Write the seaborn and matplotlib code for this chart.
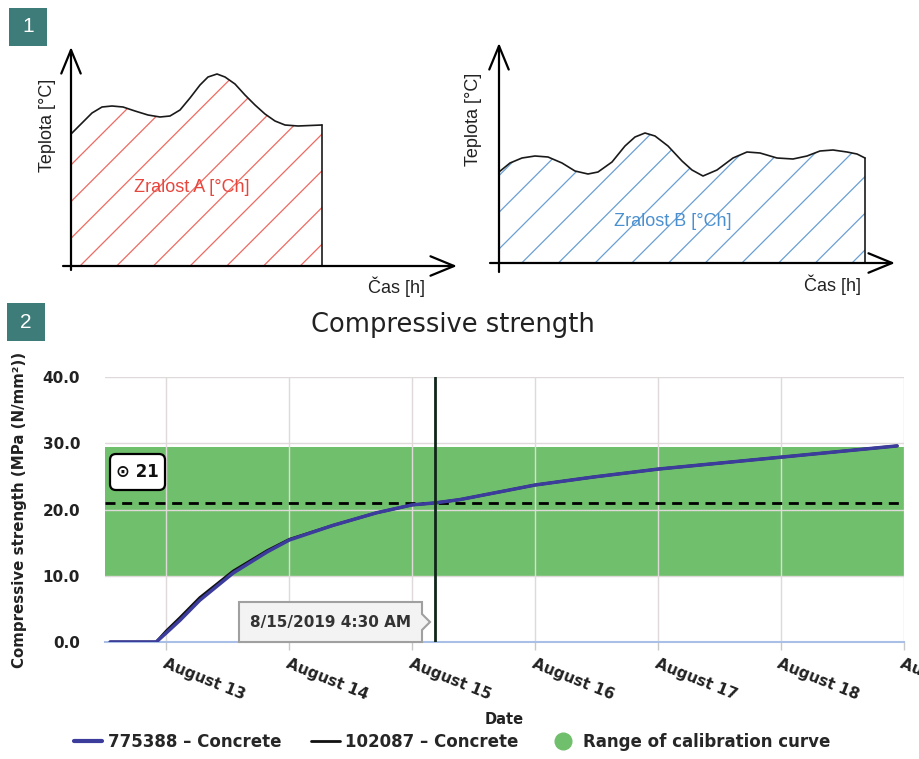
import numpy as np
import pandas as pd
import matplotlib
matplotlib.use('Agg')
import matplotlib.pyplot as plt
import matplotlib.dates as mdates
from matplotlib.patches import Polygon, Rectangle, FancyBboxPatch
from matplotlib.lines import Line2D
import seaborn as sns

W, H = 919, 759

# Sketch 1 / 2: temperature history drawn as a schematic (arbitrary units)
sketch_a_time = [0, 11, 21, 31, 41, 52, 64, 77, 89, 99, 109, 119, 129, 137, 146, 154, 164, 174,
                 184, 194, 204, 214, 227, 251]
sketch_a_temp = [132, 143, 153, 159, 160, 159, 155, 151, 149, 150, 156, 168, 181, 189, 192, 189,
                 182, 171, 161, 152, 145, 141, 140, 141]

sketch_b_time = [0, 11, 23, 36, 49, 63, 76, 89, 99, 113, 126, 136, 146, 156, 169, 183, 193, 204,
                 218, 234, 248, 261, 278, 294, 308, 321, 334, 348, 358, 366]
sketch_b_temp = [91, 100, 105, 107, 106, 100, 92, 89, 91, 101, 117, 126, 130, 127, 117, 102, 93,
                 87, 93, 105, 111, 110, 105, 104, 107, 112, 113, 111, 109, 105]

# Compressive strength chart
strength_times = ['2019-08-12 13:00', '2019-08-12 22:00', '2019-08-13 00:00', '2019-08-13 02:40',
                  '2019-08-13 06:30', '2019-08-13 13:00', '2019-08-13 19:40', '2019-08-14 00:00',
                  '2019-08-14 08:30', '2019-08-14 17:00', '2019-08-15 00:00', '2019-08-15 04:30',
                  '2019-08-15 09:20', '2019-08-16 00:00', '2019-08-16 11:20', '2019-08-17 00:00',
                  '2019-08-17 12:00', '2019-08-18 00:00', '2019-08-18 22:40']
strength_775388 = [0, 0, 1.4, 3.3, 6.3, 10.4, 13.6, 15.4, 17.6, 19.5, 20.7, 21.0, 21.5, 23.7,
                   24.9, 26.1, 27.0, 27.9, 29.6]
strength_102087 = [0, 0, 1.7, 3.7, 6.7, 10.7, 13.8, 15.5, 17.6, 19.5, 20.7, 21.0, 21.5, 23.7,
                   24.9, 26.1, 27.0, 27.9, 29.6]
calib_low, calib_high = 10, 29.5
target_strength = 21
marker_time = '2019-08-15 04:30'
marker_label = '8/15/2019 4:30 AM'
x_start, x_end = '2019-08-12 12:00', '2019-08-19 00:00'
x_ticks = ['2019-08-13', '2019-08-14', '2019-08-15', '2019-08-16', '2019-08-17', '2019-08-18',
           '2019-08-19']
x_tick_labels = ['August 13', 'August 14', 'August 15', 'August 16', 'August 17', 'August 18',
                 'August 19']
y_ticks = [0, 10, 20, 30, 40]
y_tick_labels = ['0.0', '10.0', '20.0', '30.0', '40.0']

sns.set_theme(style='white')
plt.rcParams['font.family'] = ['DejaVu Sans']


def px_rect(x0, y0, x1, y1):
    return [x0 / W, 1 - y1 / H, (x1 - x0) / W, (y1 - y0) / H]


def draw_sketch(fig, rect_px, origin, time, temp, fill_color, text_color, label,
                label_pos, ylab_pos, xlab_pos, y_arrow, x_arrow, hatch_start):
    x0, y0, x1, y1 = rect_px
    ox, oy = origin
    ax = fig.add_axes(px_rect(*rect_px))
    ax.set_xlim(x0 - ox, x1 - ox)
    ax.set_ylim(oy - y1, oy - y0)
    ax.axis('off')
    ax.patch.set_alpha(0)

    # hatched area under the curve
    verts = [(time[0], 0)] + list(zip(time, temp)) + [(time[-1], 0)]
    poly = Polygon(verts, closed=True, fill=False, lw=0, transform=ax.transData)
    ax.add_patch(poly)
    for c in np.arange(hatch_start - 36.7 * 8, time[-1] + 40, 36.7):
        ln, = ax.plot([c - 50, c + 400], [-50, 400], color=fill_color, lw=0.9)
        ln.set_clip_path(poly)

    sns.lineplot(x=time, y=temp, ax=ax, color='#1a1a1a', lw=1.2, sort=False, estimator=None,
                 solid_joinstyle='round', solid_capstyle='round')
    ax.plot([time[-1], time[-1]], [temp[-1], 0], color='#1a1a1a', lw=1.2)

    arrow = dict(arrowstyle='->,head_length=1.7,head_width=0.7', color='black', lw=1.6,
                 mutation_scale=10, shrinkA=0, shrinkB=0)
    ax.annotate('', xy=y_arrow[1], xytext=y_arrow[0], arrowprops=arrow)
    ax.annotate('', xy=x_arrow[1], xytext=x_arrow[0], arrowprops=arrow)

    ax.text(*label_pos, label, color=text_color, fontsize=13, ha='center', va='center',
            family='Liberation Sans')
    ax.text(*ylab_pos, 'Teplota [°C]', rotation=90, fontsize=13, ha='center', va='center',
            family='Liberation Sans', color='#222222')
    ax.text(*xlab_pos, 'Čas [h]', fontsize=13, ha='center', va='center',
            family='Liberation Sans', color='#222222')
    return ax


fig = plt.figure(figsize=(W / 100, H / 100), dpi=100)
fig.patch.set_facecolor('white')

# ---- panel 1 sketches
draw_sketch(fig, (55, 35, 465, 300), (71, 266), sketch_a_time, sketch_a_temp,
            '#ee6a62', '#e8453c', 'Zralost A [°Ch]',
            (121, 78), (-23, 141), (326, -21),
            ((0, -4), (0, 219)), ((-8, 0), (386, 0)), 9)
draw_sketch(fig, (470, 30, 910, 300), (499, 263), sketch_b_time, sketch_b_temp,
            '#6a9fd4', '#4a90d0', 'Zralost B [°Ch]',
            (174, 41), (-25, 144), (334, -22),
            ((0, -9), (0, 220)), ((-9, 0), (396, 0)), 22.7)

# ---- panel 2 chart
ax = fig.add_axes(px_rect(105, 377, 904, 642))
df = pd.DataFrame({'time': pd.to_datetime(strength_times),
                   '775388': strength_775388, '102087': strength_102087})

ax.axhspan(calib_low, calib_high, color='#70bf6c', lw=0, zorder=0.5)
ax.axhline(target_strength, color='black', lw=2, dashes=(3.6, 2.4), zorder=3)
sns.lineplot(data=df, x='time', y='102087', ax=ax, color='#111111', lw=2, zorder=4)
sns.lineplot(data=df, x='time', y='775388', ax=ax, color='#3c3c9c', lw=2.5, zorder=5)
ax.axvline(mdates.date2num(pd.Timestamp(marker_time)), color='#10261a', lw=2, zorder=6)

ax.set_xlim(mdates.date2num(pd.Timestamp(x_start)), mdates.date2num(pd.Timestamp(x_end)))
ax.set_ylim(0, 40)
ax.set_xticks(mdates.date2num(pd.to_datetime(x_ticks)))
ax.set_xticklabels(x_tick_labels, rotation=-22, ha='left', va='top', rotation_mode='anchor',
                   fontsize=11, fontweight='bold', color='#222222')
ax.set_yticks(y_ticks)
ax.set_yticklabels(y_tick_labels, fontsize=11, fontweight='bold', color='#222222')
ax.tick_params(axis='x', length=6, width=1, color='#c8c8c8', pad=4, bottom=True)
ax.tick_params(axis='y', length=0, pad=18)
ax.set_xlabel('')
ax.set_ylabel('')
ax.grid(True, color='#e0d9d9', lw=1)
ax.set_axisbelow(False)
for s in ['left', 'right', 'top']:
    ax.spines[s].set_visible(False)
ax.spines['bottom'].set_color('#a9bfe6')
ax.spines['bottom'].set_linewidth(1.5)
ax.spines['bottom'].set_zorder(2.6)
ax.patch.set_alpha(0)

fig.text(453 / W, 1 - 325 / H, 'Compressive strength', ha='center', va='center', fontsize=18.5,
         color='#222222')
fig.text(20 / W, 1 - 510 / H, 'Compressive strength (MPa (N/mm²))', rotation=90, ha='center',
         va='center', fontsize=10.8, fontweight='bold', color='#222222')
fig.text(504 / W, 1 - 719 / H, 'Date', ha='center', va='center', fontsize=10.5,
         fontweight='bold', color='#222222')

handles = [Line2D([], [], color='#3c3c9c', lw=3),
           Line2D([], [], color='#111111', lw=2),
           Line2D([], [], color='#70bf6c', marker='o', ls='none', markersize=12)]
fig.legend(handles, ['775388 – Concrete', '102087 – Concrete', 'Range of calibration curve'],
           loc='center', bbox_to_anchor=(452 / W, 1 - 742 / H), ncol=3, frameon=False,
           handlelength=1.7, handletextpad=0.35, columnspacing=1.8,
           prop={'weight': 'bold', 'size': 12})

# ---- overlay annotations in pixel coordinates
ov = fig.add_axes([0, 0, 1, 1], zorder=10)
ov.set_xlim(0, W)
ov.set_ylim(H, 0)
ov.axis('off')
ov.patch.set_alpha(0)

for (bx, by), num in [((9, 8), '1'), ((7, 303), '2')]:
    ov.add_patch(Rectangle((bx, by), 38, 38, fc='#3d7c79', ec='none'))
    ov.text(bx + 19, by + 19, num, color='white', fontsize=15, ha='center', va='center',
            family='Liberation Sans')

ov.add_patch(FancyBboxPatch((110, 454), 55, 36, boxstyle='round,pad=0,rounding_size=6',
                            fc='white', ec='black', lw=1.6))
ov.text(137.5, 472, '⊙ 21', fontsize=12, fontweight='bold', ha='center', va='center',
        color='#111111')

tip = [(239, 602), (422, 602), (422, 614), (430, 622), (422, 630), (422, 642), (239, 642)]
ov.add_patch(Polygon(tip, closed=True, fc='#f3f3f3', ec='#a0a0a0', lw=1.5))
ov.text(330, 622, marker_label, fontsize=11, fontweight='bold', ha='center', va='center',
        color='#333333')

fig.savefig('out.png', dpi=100)
